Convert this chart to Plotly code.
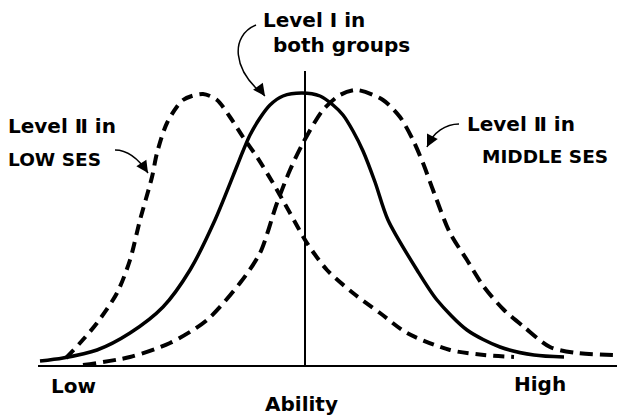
import plotly.graph_objects as go

# Ability axis positions and curve heights
level1_x = [40, 63, 97, 130, 163, 190, 215, 237, 243, 250, 260, 270, 283, 302, 320, 333, 343, 353, 363, 375, 388, 417, 437, 467, 500, 534, 564]
level1_y = [5, 8, 16, 33, 59, 96, 146, 200, 215, 231, 248, 261, 270, 273, 270, 261, 251, 235, 215, 184, 146, 96, 66, 36, 19, 11, 9]

low_ses_x = [66, 80, 97, 117, 130, 140, 152, 157, 167, 183, 203, 217, 230, 243, 257, 273, 290, 307, 327, 353, 380, 407, 450, 484, 514]
low_ses_y = [8, 23, 43, 73, 106, 146, 189, 213, 243, 266, 272, 266, 249, 229, 209, 183, 153, 123, 96, 73, 53, 33, 16, 11, 9]

mid_ses_x = [83, 130, 170, 207, 240, 260, 277, 290, 303, 323, 340, 357, 383, 400, 413, 423, 433, 450, 467, 484, 504, 524, 550, 577, 614]
mid_ses_y = [1, 9, 23, 46, 83, 113, 163, 196, 223, 256, 271, 276, 266, 249, 226, 203, 176, 133, 106, 79, 56, 39, 19, 13, 11]

axis_start, axis_end = 38, 617
center_x, center_top = 305, 295

fig = go.Figure()

fig.add_trace(go.Scatter(x=low_ses_x, y=low_ses_y, mode='lines',
                         line=dict(color='black', width=4, dash='11px,7px', shape='spline', smoothing=0.8)))
fig.add_trace(go.Scatter(x=mid_ses_x, y=mid_ses_y, mode='lines',
                         line=dict(color='black', width=4, dash='13px,7px', shape='spline', smoothing=0.8)))
fig.add_trace(go.Scatter(x=level1_x, y=level1_y, mode='lines',
                         line=dict(color='black', width=3.5, shape='spline', smoothing=0.8)))

# baseline and centre line
fig.add_shape(type='line', x0=axis_start, x1=axis_end, y0=0, y1=0, line=dict(color='black', width=2))
fig.add_shape(type='line', x0=center_x, x1=center_x, y0=0, y1=center_top, line=dict(color='black', width=2))

# curved pointer arrows
arrows = [
    ('M 256 341 C 230 330, 232 296, 265 270', (265, 270), (257, 281)),
    ('M 115 216 C 127 216, 138 208, 148 193', (148, 193), (142, 202)),
    ('M 459 242 C 446 242, 433 234, 427 219', (427, 219), (431, 227)),
]
for path, tip, tail in arrows:
    fig.add_shape(type='path', path=path, line=dict(color='black', width=1.5))
    fig.add_annotation(x=tip[0], y=tip[1], ax=tail[0], ay=tail[1], axref='x', ayref='y',
                       showarrow=True, arrowhead=2, arrowsize=1.6, arrowwidth=1.5, arrowcolor='black', text='')

font = dict(family='DejaVu Sans', size=20, color='black', weight='bold')
caps = dict(family='DejaVu Sans', size=18.5, color='black', weight='bold')
labels = [
    (261, 346, 'Level Ⅰ in', font),
    (271, 321, 'both groups', font),
    (6, 240, 'Level Ⅱ in', font),
    (6, 207, 'LOW SES', caps),
    (465, 242, 'Level Ⅱ in', font),
    (480, 210, 'MIDDLE SES', caps),
    (49, -20, 'Low', font),
    (512, -18, 'High', font),
]
for x, y, t, f in labels:
    fig.add_annotation(x=x, y=y, text=t, showarrow=False, xanchor='left', yanchor='middle', font=f)
fig.add_annotation(x=center_x - 4, y=-38, text='Ability', showarrow=False, xanchor='center',
                   yanchor='middle', font=font)

fig.update_layout(
    width=617, height=416,
    margin=dict(l=0, r=0, t=0, b=0),
    plot_bgcolor='white', paper_bgcolor='white',
    showlegend=False,
    xaxis=dict(range=[0, 617], visible=False, fixedrange=True),
    yaxis=dict(range=[-50, 366], visible=False, fixedrange=True),
)

fig.write_html("out.html", config={'displayModeBar': False},
               post_script="document.body.style.margin='0';")
